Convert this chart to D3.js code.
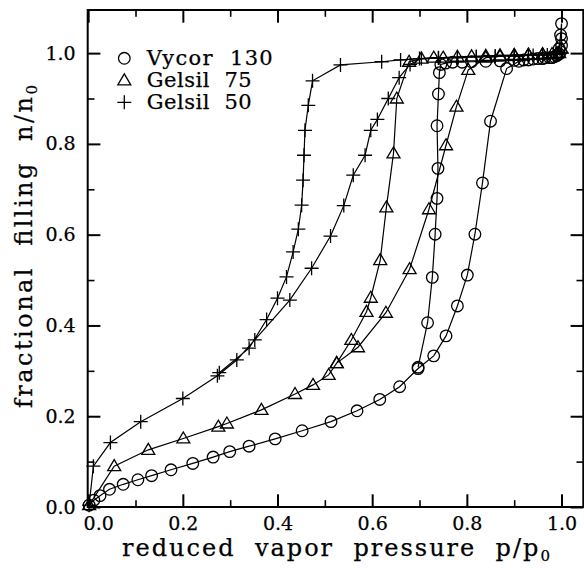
<!DOCTYPE html>
<html><head><meta charset="utf-8">
<script src="https://cdn.jsdelivr.net/npm/d3@7"></script>
<style>
body{margin:0;background:#fff}
svg{display:block}
text{font-family:"DejaVu Serif",serif;fill:#000;stroke:#000;stroke-width:0.25}
</style>
</head><body>
<svg id="c" width="584" height="572"></svg>
<script>
// ---- data ----
const xMajorTicks = [0, 0.2, 0.4, 0.6, 0.8, 1.0];
const xMinorTicks = [0.1, 0.3, 0.5, 0.7, 0.9];
const yMajorTicks = [0, 0.2, 0.4, 0.6, 0.8, 1.0];
const yMinorTicks = [0.1, 0.3, 0.5, 0.7, 0.9];
const seriesNames = ["Vycor  130", "Gelsil  75", "Gelsil  50"];

// Vycor 130 : adsorption then desorption
const vycorX = [0.002,0.012,0.025,0.045,0.074,0.105,0.134,0.175,0.221,0.264,0.299,0.340,0.395,0.452,0.513,0.568,0.616,0.658,0.697,0.730,0.756,0.780,0.801,0.817,0.833,0.850,0.884,0.91,0.93,0.95,0.965,0.975,0.985,0.99,0.995,0.998,1.0,1.0,1.0,
  0.998,0.995,0.99,0.98,0.96,0.94,0.92,0.90,0.87,0.84,0.81,0.79,0.77,0.755,0.745,0.742,0.740,0.737,0.739,0.737,0.733,0.727,0.717,0.697];
const vycorY = [0.004,0.015,0.025,0.039,0.050,0.060,0.069,0.082,0.096,0.110,0.122,0.134,0.150,0.168,0.188,0.212,0.237,0.265,0.305,0.333,0.377,0.443,0.511,0.601,0.714,0.850,0.966,0.982,0.985,0.988,0.990,0.990,0.992,0.995,0.998,1.003,1.017,1.032,1.065,
  1.040,1.010,0.995,0.990,0.988,0.987,0.985,0.984,0.983,0.982,0.981,0.980,0.980,0.978,0.975,0.957,0.910,0.840,0.746,0.680,0.601,0.506,0.406,0.308];

// Gelsil 75
const gelsil75X = [0.002,0.055,0.127,0.201,0.275,0.293,0.366,0.437,0.475,0.508,0.525,0.570,0.629,0.679,0.720,0.756,0.778,0.803,0.84,0.87,0.90,0.93,0.96,0.98,0.995,1.0,
  0.99,0.96,0.93,0.90,0.87,0.84,0.81,0.78,0.75,0.73,0.704,0.678,0.652,0.645,0.630,0.617,0.597,0.588,0.556,0.525];
const gelsil75Y = [0.004,0.090,0.126,0.151,0.177,0.184,0.214,0.249,0.269,0.291,0.317,0.352,0.428,0.524,0.656,0.797,0.882,0.963,0.990,0.993,0.995,0.996,0.997,0.998,1.000,1.010,
  1.000,0.998,0.997,0.996,0.995,0.994,0.993,0.992,0.990,0.990,0.988,0.981,0.900,0.779,0.660,0.544,0.461,0.430,0.368,0.317];

// Gelsil 50
const gelsil50X = [0.002,0.011,0.047,0.111,0.200,0.273,0.314,0.352,0.426,0.472,0.512,0.540,0.560,0.585,0.597,0.611,0.634,0.657,0.680,0.704,0.74,0.78,0.82,0.86,0.90,0.94,0.97,0.99,1.0,
  0.99,0.96,0.93,0.90,0.86,0.82,0.78,0.74,0.70,0.66,0.62,0.533,0.474,0.465,0.458,0.456,0.454,0.451,0.444,0.433,0.419,0.400,0.377,0.340,0.277];
const gelsil50Y = [0.004,0.090,0.142,0.188,0.239,0.289,0.324,0.368,0.456,0.526,0.597,0.664,0.731,0.775,0.830,0.854,0.900,0.946,0.975,0.988,0.990,0.990,0.992,0.993,0.994,0.995,0.996,0.998,1.000,
  0.998,0.996,0.995,0.994,0.993,0.992,0.990,0.989,0.988,0.985,0.981,0.974,0.939,0.885,0.830,0.775,0.720,0.665,0.612,0.562,0.507,0.460,0.413,0.350,0.296];

// ---- chart ----
const svg = d3.select("#c");
const x = d3.scaleLinear().domain([-0.001, 1.046]).range([87.7, 583.3]);
const y = d3.scaleLinear().domain([0, 1.095]).range([507, 10]);
const fmt = d3.format(".1f");

function axes(){
  const maj = 12.7, mnr = 6.8;
  const defs = [
    {a: d3.axisBottom, t:`translate(0,${y.range()[0]})`, s:x, lab:true},
    {a: d3.axisTop, t:`translate(0,${y.range()[1]})`, s:x, lab:false},
    {a: d3.axisLeft, t:`translate(${x.range()[0]},0)`, s:y, lab:true},
    {a: d3.axisRight, t:`translate(${x.range()[1]},0)`, s:y, lab:false}
  ];
  defs.forEach(d=>{
    const isX = d.s === x;
    const major = isX ? xMajorTicks : yMajorTicks;
    const minor = isX ? xMinorTicks : yMinorTicks;
    const gM = svg.append("g").attr("transform", d.t)
      .call(d.a(d.s).tickValues(major).tickSize(-maj).tickPadding(isX?10:12)
        .tickFormat(d.lab ? fmt : ""));
    gM.selectAll(".tick line").attr("stroke","#000").attr("stroke-width",2);
    gM.selectAll(".tick text").attr("font-size",19).attr("font-family","DejaVu Serif");
    gM.select(".domain").remove();
    const gm = svg.append("g").attr("transform", d.t)
      .call(d.a(d.s).tickValues(minor).tickSize(-mnr).tickFormat(""));
    gm.selectAll(".tick line").attr("stroke","#000").attr("stroke-width",1.6);
    gm.select(".domain").remove();
    if (d.lab && isX){
      gM.selectAll(".tick").filter(v=>v===0).select("text").attr("dx",10);
    }
  });
  svg.append("rect").attr("x",x.range()[0]).attr("y",y.range()[1])
    .attr("width",x.range()[1]-x.range()[0]).attr("height",y.range()[0]-y.range()[1])
    .attr("fill","none").attr("stroke","#000").attr("stroke-width",2);
}

const markers = {
  circle: "M5.8,0A5.8,5.8 0 1,1 -5.8,0A5.8,5.8 0 1,1 5.8,0Z",
  triangle: "M0,-6.5L6.5,4.5L-6.5,4.5Z",
  plus: "M-7,0H7M0,-7V7"
};
const series = [
  {xs: vycorX, ys: vycorY, m: markers.circle},
  {xs: gelsil75X, ys: gelsil75Y, m: markers.triangle},
  {xs: gelsil50X, ys: gelsil50Y, m: markers.plus}
];
const line = d3.line().x(d=>x(d[0])).y(d=>y(d[1]));
const plot = svg.append("g");
series.forEach(s=>{
  const pts = s.xs.map((v,i)=>[v, s.ys[i]]);
  plot.append("path").attr("d", line(pts)).attr("fill","none").attr("stroke","#000").attr("stroke-width",1.2);
  plot.selectAll(null).data(pts).enter().append("path")
    .attr("d", s.m).attr("transform", d=>`translate(${x(d[0])},${y(d[1])})`)
    .attr("fill","none").attr("stroke","#000").attr("stroke-width",1.3);
});
axes();

// legend
const legendWidths = [126, 105, 105];
const lg = svg.append("g");
seriesNames.forEach((n,i)=>{
  const cy = 58.3 + i*22;
  lg.append("path").attr("d", series[i].m).attr("transform",`translate(124.3,${cy})`)
    .attr("fill","none").attr("stroke","#000").attr("stroke-width",1.3);
  lg.append("text").attr("x",146.7).attr("y",cy+6.8).attr("font-size",21)
    .attr("textLength",legendWidths[i]).attr("lengthAdjust","spacing")
    .style("white-space","pre").text(n);
});

// axis titles
const xt = svg.append("text").attr("x",336).attr("y",556).attr("text-anchor","middle")
  .attr("font-size",24).attr("textLength",428).attr("lengthAdjust","spacing")
  .style("white-space","pre");
xt.append("tspan").text("reduced  vapor  pressure  p/p");
xt.append("tspan").attr("font-size",15).attr("dy",5).text("0");

const yt = svg.append("text").attr("transform","translate(32,246.5) rotate(-90)")
  .attr("text-anchor","middle").attr("font-size",24).attr("textLength",323).attr("lengthAdjust","spacing")
  .style("white-space","pre");
yt.append("tspan").text("fractional  filling  n/n");
yt.append("tspan").attr("font-size",15).attr("dy",5).text("0");
</script>
</body></html>
